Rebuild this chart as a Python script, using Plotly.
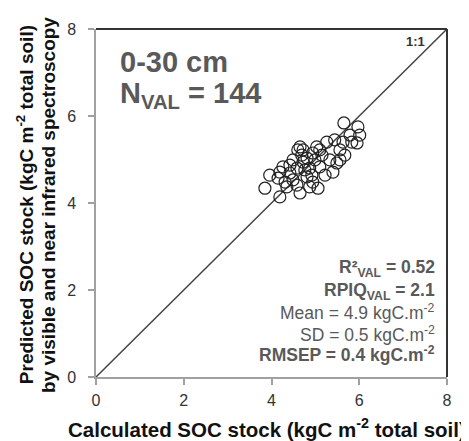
import plotly.graph_objects as go

# Calculated (x) vs predicted (y) SOC stock, kgC m-2
calc_soc = [5.65, 5.97, 6.01, 5.95, 5.83, 5.63, 5.56, 5.26, 5.03, 4.72,
            4.69, 4.94, 5.33, 5.49, 5.40, 5.10, 4.87, 4.58, 4.42, 4.26,
            4.19, 4.15, 4.49, 4.81, 4.94, 4.87, 5.06, 4.65, 4.35, 4.19,
            3.85, 4.49, 4.81, 4.60, 4.65, 5.15, 5.67, 5.79, 5.44, 3.96,
            4.72, 4.31, 4.58, 5.22, 4.99, 4.42, 4.76, 4.92, 5.10, 5.56]
pred_soc = [5.84, 5.75, 5.56, 5.38, 5.40, 5.40, 5.22, 5.40, 5.29, 5.22,
            5.10, 5.15, 4.99, 4.92, 4.71, 4.83, 4.80, 4.80, 4.69, 4.83,
            4.71, 4.57, 4.53, 4.60, 4.48, 4.37, 4.34, 4.23, 4.37, 4.14,
            4.34, 4.99, 5.03, 5.22, 5.29, 5.10, 5.10, 5.56, 5.45, 4.64,
            4.94, 4.48, 4.41, 4.64, 4.99, 4.87, 4.76, 4.64, 5.22, 4.99]

one_to_one = [0, 8]
tick_vals = [0, 2, 4, 6, 8]

stats_lines = ["<b>R²<sub>VAL</sub> = 0.52</b>",
               "<b>RPIQ<sub>VAL</sub> = 2.1</b>",
               "Mean = 4.9 kgC.m<sup>-2</sup>",
               "SD = 0.5 kgC.m<sup>-2</sup>",
               "<b>RMSEP = 0.4 kgC.m<sup>-2</sup></b>"]

FONT = "Liberation Sans, Arial, sans-serif"
GRAY_TXT = "#595959"

fig = go.Figure()
fig.add_trace(go.Scatter(x=one_to_one, y=one_to_one, mode="lines",
                         line=dict(color="#444444", width=1.5),
                         hoverinfo="skip", showlegend=False))
fig.add_trace(go.Scatter(x=calc_soc, y=pred_soc, mode="markers",
                         marker=dict(symbol="circle-open", size=12,
                                     color="#222222", line=dict(width=1.2)),
                         showlegend=False))

axis_common = dict(range=[0, 8], tickvals=tick_vals, showgrid=False, zeroline=False,
                   showline=True, linecolor="#a0a0a0", linewidth=1.5,
                   ticks="outside", ticklen=6, tickcolor="#a0a0a0", tickwidth=1.5,
                   tickfont=dict(family=FONT, size=16, color="#333333"))
fig.update_xaxes(**axis_common, ticklabelstandoff=2)
fig.update_yaxes(**axis_common, ticklabelstandoff=9)

# dark top and right frame
fig.add_shape(type="line", xref="paper", yref="paper", x0=0, x1=1, y0=1, y1=1,
              line=dict(color="#333333", width=2))
fig.add_shape(type="line", xref="paper", yref="paper", x0=1, x1=1, y0=0, y1=1,
              line=dict(color="#333333", width=2))

# axis titles
fig.add_annotation(xref="paper", yref="paper", x=0.487, y=-0.147, xanchor="center", yanchor="middle",
                   text="<b>Calculated SOC stock (kgC m<sup>-2</sup> total soil)</b>",
                   showarrow=False, font=dict(family=FONT, size=20.5, color="#111111"))
fig.add_annotation(xref="paper", yref="paper", x=-0.202, y=0.494, xanchor="center", yanchor="middle",
                   textangle=-90,
                   text="<b>Predicted SOC stock (kgC m<sup>-2</sup> total soil)</b>",
                   showarrow=False, font=dict(family=FONT, size=19, color="#111111"))
fig.add_annotation(xref="paper", yref="paper", x=-0.137, y=0.494, xanchor="center", yanchor="middle",
                   textangle=-90,
                   text="<b>by visible and near infrared spectroscopy</b>",
                   showarrow=False, font=dict(family=FONT, size=19, color="#111111"))

# top-left labels
fig.add_annotation(xref="paper", yref="paper", x=0.063, y=0.905, xanchor="left", yanchor="middle",
                   text="<b>0-30 cm</b>", showarrow=False,
                   font=dict(family=FONT, size=29, color=GRAY_TXT))
fig.add_annotation(xref="paper", yref="paper", x=0.063, y=0.810, xanchor="left", yanchor="middle",
                   text="<b>N<sub>VAL</sub> = 144</b>", showarrow=False,
                   font=dict(family=FONT, size=29, color=GRAY_TXT))
fig.add_annotation(xref="paper", yref="paper", x=0.943, y=0.963, xanchor="right", yanchor="middle",
                   text="<b>1:1</b>", showarrow=False,
                   font=dict(family=FONT, size=13, color="#333333"))

stat_y = [0.313, 0.246, 0.188, 0.124, 0.066]
for txt, yy in zip(stats_lines, stat_y):
    fig.add_annotation(xref="paper", yref="paper", x=0.972, y=yy, xanchor="right", yanchor="middle",
                       text=txt, showarrow=False,
                       font=dict(family=FONT, size=17.5, color=GRAY_TXT))

fig.update_layout(width=461, height=433, margin=dict(l=88, r=22, t=21, b=64),
                  plot_bgcolor="white", paper_bgcolor="white",
                  font=dict(family=FONT))
fig.write_html("out.html")
